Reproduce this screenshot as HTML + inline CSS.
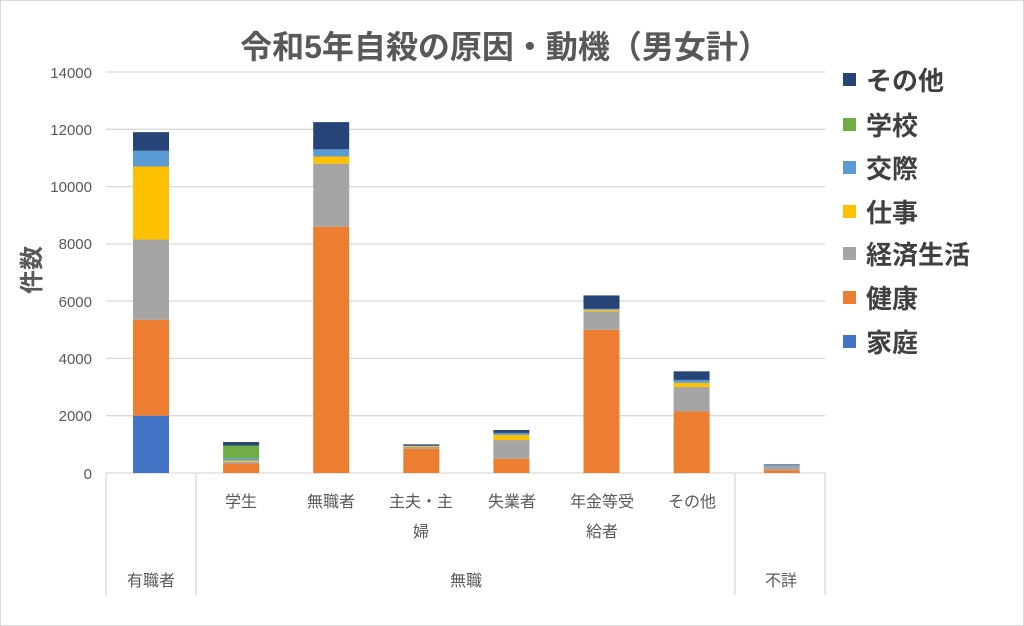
<!DOCTYPE html>
<html><head><meta charset="utf-8"><style>body{margin:0;background:#fff}svg{display:block}text{font-family:"Liberation Sans","Noto Sans CJK JP",sans-serif}</style></head><body>
<svg width="1024" height="626" viewBox="0 0 1024 626">
<rect x="0.5" y="0.5" width="1023" height="625" fill="#fff" stroke="#d9d9d9"/>
<text x="505" y="58" text-anchor="middle" font-size="32" font-weight="bold" fill="#595959">令和5年自殺の原因・動機（男女計）</text>
<g stroke="#d9d9d9" stroke-width="1.3">
<line x1="106" x2="825" y1="72" y2="72"/><line x1="106" x2="825" y1="129.3" y2="129.3"/><line x1="106" x2="825" y1="186.6" y2="186.6"/><line x1="106" x2="825" y1="243.9" y2="243.9"/><line x1="106" x2="825" y1="301.1" y2="301.1"/><line x1="106" x2="825" y1="358.4" y2="358.4"/><line x1="106" x2="825" y1="415.7" y2="415.7"/>
<line x1="106" x2="825" y1="473" y2="473"/>
<line x1="106" x2="106" y1="473" y2="595"/><line x1="196" x2="196" y1="473" y2="595"/><line x1="735" x2="735" y1="473" y2="595"/><line x1="825" x2="825" y1="473" y2="595"/>
</g>
<g font-size="15" fill="#595959" text-anchor="end">
<text x="92" y="78">14000</text><text x="92" y="135">12000</text><text x="92" y="192">10000</text><text x="92" y="249">8000</text><text x="92" y="307">6000</text><text x="92" y="364">4000</text><text x="92" y="421">2000</text><text x="92" y="479">0</text>
</g>
<text transform="translate(40,270) rotate(-90)" text-anchor="middle" font-size="24" font-weight="bold" fill="#595959">件数</text>
<g id="bars"></g>
<g font-size="16" fill="#595959" text-anchor="middle">
<text x="241" y="507">学生</text><text x="331" y="507">無職者</text><text x="421" y="507">主夫・主</text><text x="421" y="537">婦</text><text x="512" y="507">失業者</text><text x="602" y="507">年金等受</text><text x="602" y="537">給者</text><text x="692" y="507">その他</text>
<text x="151" y="586">有職者</text><text x="466" y="586">無職</text><text x="781" y="586">不詳</text>
</g>
<g font-size="26" fill="#404040" font-weight="bold">
<rect x="843" y="73" width="13" height="13" fill="#264478"/><text x="866" y="90">その他</text>
<rect x="843" y="118" width="13" height="13" fill="#70AD47"/><text x="866" y="135">学校</text>
<rect x="843" y="161" width="13" height="13" fill="#5B9BD5"/><text x="866" y="178">交際</text>
<rect x="843" y="205" width="13" height="13" fill="#FFC000"/><text x="866" y="222">仕事</text>
<rect x="843" y="247" width="13" height="13" fill="#A5A5A5"/><text x="866" y="264">経済生活</text>
<rect x="843" y="291" width="13" height="13" fill="#ED7D31"/><text x="866" y="308">健康</text>
<rect x="843" y="335" width="13" height="13" fill="#4472C4"/><text x="866" y="352">家庭</text>
</g>
</svg>
<script>
var cols=["#4472C4","#ED7D31","#A5A5A5","#FFC000","#5B9BD5","#70AD47","#264478"];
var data=[[2000,3350,2800,2550,550,0,650],[0,330,60,40,80,450,120],[0,8600,2200,250,250,0,950],[0,850,70,30,0,0,50],[0,500,650,180,70,0,100],[0,5000,650,50,30,0,470],[0,2150,850,150,100,0,300],[0,100,150,0,20,0,30]];
var k=401/14000,g=document.getElementById("bars"),s="";
data.forEach(function(d,i){var cx=151+i*90.1,y=0;d.forEach(function(v,j){if(v>0){var y1=473-(y+v)*k;s+='<rect x="'+(cx-18)+'" y="'+y1+'" width="36" height="'+(v*k)+'" fill="'+cols[j]+'"/>';y+=v;}});});
g.innerHTML=s;
</script>
</body></html>
